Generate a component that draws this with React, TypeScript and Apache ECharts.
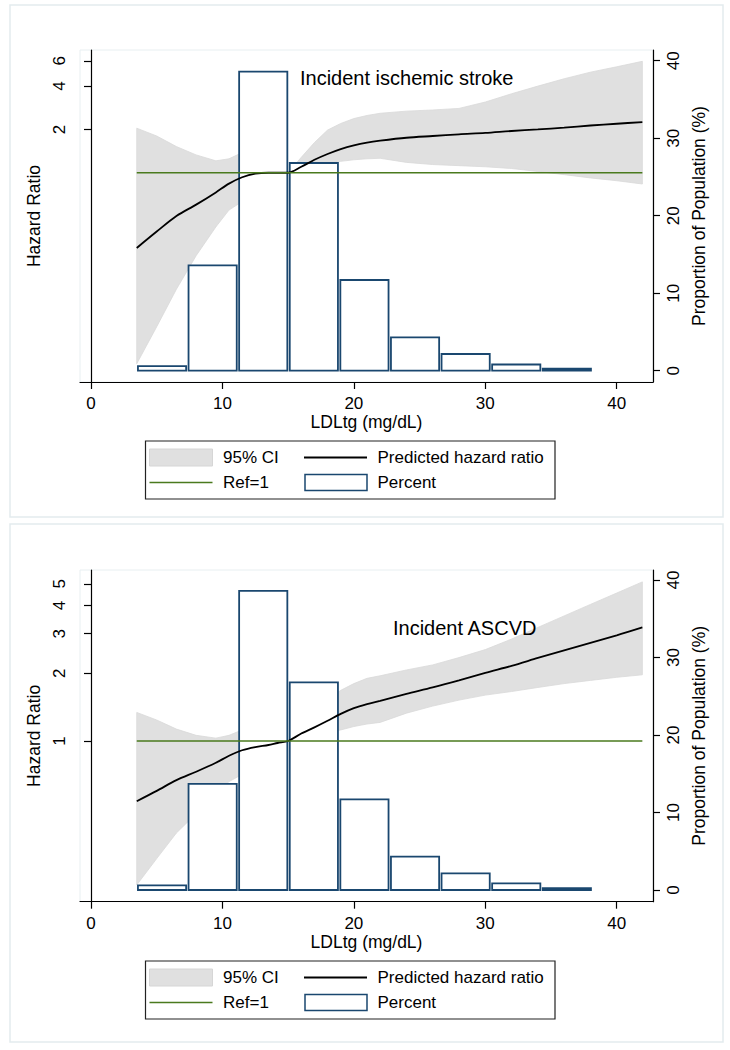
import React, { useEffect, useRef } from "react";
import * as echarts from "echarts";

// ---------- data ----------
const xGrid = [3.48, 5, 6.5, 8, 9.5, 10.5, 11.5, 12.5, 13.5, 14.2, 15, 16, 17, 18, 19, 20, 21, 22, 24, 26, 28, 30, 32, 34, 36, 38, 40, 41.95];

// Panel 1: Incident ischemic stroke
const strokeHR = [0.30, 0.39, 0.50, 0.60, 0.73, 0.84, 0.93, 0.985, 1.0, 1.0, 1.0, 1.10, 1.23, 1.35, 1.46, 1.55, 1.62, 1.67, 1.75, 1.80, 1.85, 1.89, 1.95, 2.0, 2.06, 2.13, 2.19, 2.25];
const strokeLo = [0.047, 0.085, 0.155, 0.265, 0.42, 0.55, 0.63, 0.70, 0.77, 0.88, 1.0, 1.06, 1.12, 1.16, 1.20, 1.23, 1.25, 1.26, 1.18, 1.14, 1.12, 1.10, 1.07, 1.02, 0.97, 0.92, 0.88, 0.835];
const strokeHi = [2.04, 1.80, 1.52, 1.33, 1.21, 1.25, 1.38, 1.43, 1.28, 1.12, 1.0, 1.28, 1.62, 1.98, 2.2, 2.38, 2.5, 2.59, 2.68, 2.73, 2.8, 3.1, 3.54, 4.0, 4.5, 5.0, 5.45, 5.95];
const strokePct = [0.6, 13.6, 38.6, 26.8, 11.7, 4.3, 2.15, 0.8, 0.25];

// Panel 2: Incident ASCVD
const ascvdHR = [0.54, 0.60, 0.67, 0.73, 0.80, 0.86, 0.91, 0.94, 0.96, 0.98, 1.0, 1.08, 1.15, 1.23, 1.32, 1.40, 1.46, 1.51, 1.62, 1.73, 1.86, 2.01, 2.16, 2.34, 2.53, 2.73, 2.95, 3.2];
const ascvdLo = [0.229, 0.30, 0.39, 0.475, 0.58, 0.66, 0.71, 0.77, 0.82, 0.90, 1.0, 1.03, 1.06, 1.09, 1.12, 1.16, 1.19, 1.21, 1.33, 1.43, 1.52, 1.60, 1.66, 1.73, 1.80, 1.86, 1.92, 1.97];
const ascvdHi = [1.34, 1.24, 1.13, 1.06, 1.03, 1.06, 1.12, 1.14, 1.09, 1.04, 1.0, 1.15, 1.33, 1.52, 1.68, 1.80, 1.90, 1.95, 2.07, 2.18, 2.35, 2.55, 2.84, 3.2, 3.6, 4.05, 4.55, 5.1];
const ascvdPct = [0.6, 13.7, 38.6, 26.8, 11.7, 4.3, 2.15, 0.86, 0.25];

const binEdges = [3.48, 7.33, 11.18, 15.03, 18.88, 22.73, 26.58, 30.43, 34.28, 38.13];
const refX = [3.48, 41.95];
const refY = 1;

const xTicks = [0, 10, 20, 30, 40];
const pctTicks = [0, 10, 20, 30, 40];
const strokeHRTicks = [2, 4, 6];
const ascvdHRTicks = [1, 2, 3, 4, 5];

const titles = ["Incident ischemic stroke", "Incident ASCVD"];
const legendLabels = ["95% CI", "Predicted hazard ratio", "Ref=1", "Percent"];

// ---------- styling ----------
const FONT = "'Liberation Sans', Arial, Helvetica, sans-serif";
const NAVY = "#1a476f";
const GREEN = "#4a7a1e";
const CI_FILL = "#e0e0e0";

export default function App() {
  const ref = useRef<HTMLDivElement>(null);

  useEffect(() => {
    document.body.style.margin = "0";
    if (!ref.current) return;
    const chart = echarts.init(ref.current, undefined, { renderer: "svg" });

    const panels = [
      { hr: strokeHR, lo: strokeLo, hi: strokeHi, pct: strokePct, ticks: strokeHRTicks, top: 50, height: 332, hrMin: 0.0351, hrMax: 7.13, pMin: -1.46, pMax: 41.38 },
      { hr: ascvdHR, lo: ascvdLo, hi: ascvdHi, pct: ascvdPct, ticks: ascvdHRTicks, top: 570, height: 331.7, hrMin: 0.193, hrMax: 5.76, pMin: -1.51, pMax: 41.29 },
    ];

    const grids: any[] = [];
    const xAxes: any[] = [];
    const yAxes: any[] = [];
    const series: any[] = [];

    const textStyle = { fontFamily: FONT, fontSize: 17, color: "#000" };

    panels.forEach((p, g) => {
      grids.push({ left: 80, top: p.top, width: 573, height: p.height, show: true, borderColor: "#e8eff1", borderWidth: 1, backgroundColor: "#fff" });
      xAxes.push({
        gridIndex: g, type: "value", min: -0.837, max: 42.76,
        axisLine: { show: true, onZero: false, lineStyle: { color: "#000", width: 1.2 } },
        axisTick: { show: true, customValues: xTicks, length: 7, lineStyle: { color: "#000", width: 1.2 } },
        axisLabel: { customValues: xTicks, margin: 13, ...textStyle },
        splitLine: { show: false },
        name: "LDLtg (mg/dL)", nameLocation: "middle", nameGap: 23,
        nameTextStyle: { ...textStyle, fontSize: 17.5 },
      });
      yAxes.push({
        gridIndex: g, type: "log", logBase: 10, min: p.hrMin, max: p.hrMax, position: "left",
        axisLine: { show: true, lineStyle: { color: "#000", width: 1.2 } },
        axisTick: { show: true, customValues: p.ticks, length: 7, lineStyle: { color: "#000", width: 1.2 } },
        axisLabel: { customValues: p.ticks, rotate: 90, margin: 12, formatter: (v: number) => String(Math.round(v)), ...textStyle },
        minorTick: { show: false },
        splitLine: { show: false },
        name: "Hazard Ratio", nameLocation: "middle", nameGap: 33,
        nameTextStyle: { ...textStyle, fontSize: 17.5 },
      });
      yAxes.push({
        gridIndex: g, type: "value", min: p.pMin, max: p.pMax, position: "right",
        axisLine: { show: true, lineStyle: { color: "#000", width: 1.2 } },
        axisTick: { show: true, customValues: pctTicks, length: 7, lineStyle: { color: "#000", width: 1.2 } },
        axisLabel: { customValues: pctTicks, rotate: 90, margin: 12, ...textStyle },
        splitLine: { show: false },
        name: "Proportion of Population (%)", nameLocation: "middle", nameGap: 31,
        nameTextStyle: { ...textStyle, fontSize: 17.5 },
      });

      const hrAxis = g * 2;
      const pctAxis = g * 2 + 1;

      // 95% CI band
      series.push({
        type: "custom", xAxisIndex: g, yAxisIndex: hrAxis, z: 1,
        data: xGrid.map((x, i) => [x, p.lo[i], p.hi[i]]),
        encode: { x: 0, y: [1, 2] },
        renderItem: (params: any, api: any) => {
          if (params.dataIndex !== 0) return null;
          const upper = xGrid.map((x, i) => api.coord([x, p.hi[i]]));
          const lower = xGrid.map((x, i) => api.coord([x, p.lo[i]])).reverse();
          return {
            type: "polygon",
            shape: { points: upper.concat(lower) },
            style: { fill: CI_FILL, stroke: "#d9d9d9", lineWidth: 0.8 },
          };
        },
      });

      // Histogram
      series.push({
        type: "custom", xAxisIndex: g, yAxisIndex: pctAxis, z: 2,
        data: p.pct.map((v, i) => [binEdges[i], binEdges[i + 1], v]),
        encode: { x: [0, 1], y: 2 },
        renderItem: (params: any, api: any) => {
          const a = api.coord([api.value(0), api.value(2)]);
          const b = api.coord([api.value(1), 0]);
          return {
            type: "rect",
            shape: { x: a[0] + 1.2, y: a[1], width: b[0] - a[0] - 2.4, height: b[1] - a[1] },
            style: { fill: "#fff", stroke: NAVY, lineWidth: 1.8 },
          };
        },
      });

      // Predicted HR curve
      series.push({
        type: "line", xAxisIndex: g, yAxisIndex: hrAxis, z: 3,
        data: xGrid.map((x, i) => [x, p.hr[i]]),
        smooth: 0.3, showSymbol: false, symbol: "none",
        lineStyle: { color: "#000", width: 1.8 },
      });

      // Ref = 1
      series.push({
        type: "line", xAxisIndex: g, yAxisIndex: hrAxis, z: 4,
        data: refX.map((x) => [x, refY]),
        showSymbol: false, symbol: "none",
        lineStyle: { color: GREEN, width: 1.5 },
      });
    });

    // graphic: panel borders, annotations, legends
    const graphic: any[] = [
      { type: "rect", shape: { x: 10, y: 5, width: 713, height: 512 }, style: { fill: "none", stroke: "#e3ebee", lineWidth: 1.5 }, z: -1 },
      { type: "rect", shape: { x: 10, y: 524, width: 713, height: 518 }, style: { fill: "none", stroke: "#e3ebee", lineWidth: 1.5 }, z: -1 },
      { type: "text", x: 300, y: 78, style: { text: titles[0], fontSize: 20, fontFamily: FONT, fill: "#000", align: "left", verticalAlign: "middle" }, z: 10 },
      { type: "text", x: 393, y: 628, style: { text: titles[1], fontSize: 20, fontFamily: FONT, fill: "#000", align: "left", verticalAlign: "middle" }, z: 10 },
    ];
    [0, 520].forEach((dy) => {
      const r1 = 457.5 + dy;
      const r2 = 482.5 + dy;
      const ts = { fontSize: 17, fontFamily: FONT, fill: "#000", align: "left", verticalAlign: "middle" };
      graphic.push(
        { type: "rect", shape: { x: 145.5, y: 441 + dy, width: 409.5, height: 58 }, style: { fill: "#fff", stroke: "#222", lineWidth: 1.2 }, z: 10 },
        { type: "rect", shape: { x: 149.5, y: 449 + dy, width: 63, height: 17 }, style: { fill: CI_FILL, stroke: "#d6d6d6", lineWidth: 1 }, z: 11 },
        { type: "text", x: 223, y: r1, style: { text: legendLabels[0], ...ts }, z: 11 },
        { type: "line", shape: { x1: 304, y1: r1, x2: 367, y2: r1 }, style: { stroke: "#000", lineWidth: 1.8 }, z: 11 },
        { type: "text", x: 377.5, y: r1, style: { text: legendLabels[1], ...ts }, z: 11 },
        { type: "line", shape: { x1: 149.5, y1: r2, x2: 212.5, y2: r2 }, style: { stroke: GREEN, lineWidth: 1.5 }, z: 11 },
        { type: "text", x: 223, y: r2, style: { text: legendLabels[2], ...ts }, z: 11 },
        { type: "rect", shape: { x: 305, y: 474.5 + dy, width: 62, height: 16 }, style: { fill: "#fff", stroke: NAVY, lineWidth: 1.5 }, z: 11 },
        { type: "text", x: 377.5, y: r2, style: { text: legendLabels[3], ...ts }, z: 11 },
      );
    });

    chart.setOption({
      animation: false,
      backgroundColor: "#fff",
      textStyle: { fontFamily: FONT },
      grid: grids,
      xAxis: xAxes,
      yAxis: yAxes,
      series,
      graphic,
    });

    return () => chart.dispose();
  }, []);

  return <div ref={ref} style={{ width: 730, height: 1050, position: "absolute", left: 0, top: 0 }} />;
}
